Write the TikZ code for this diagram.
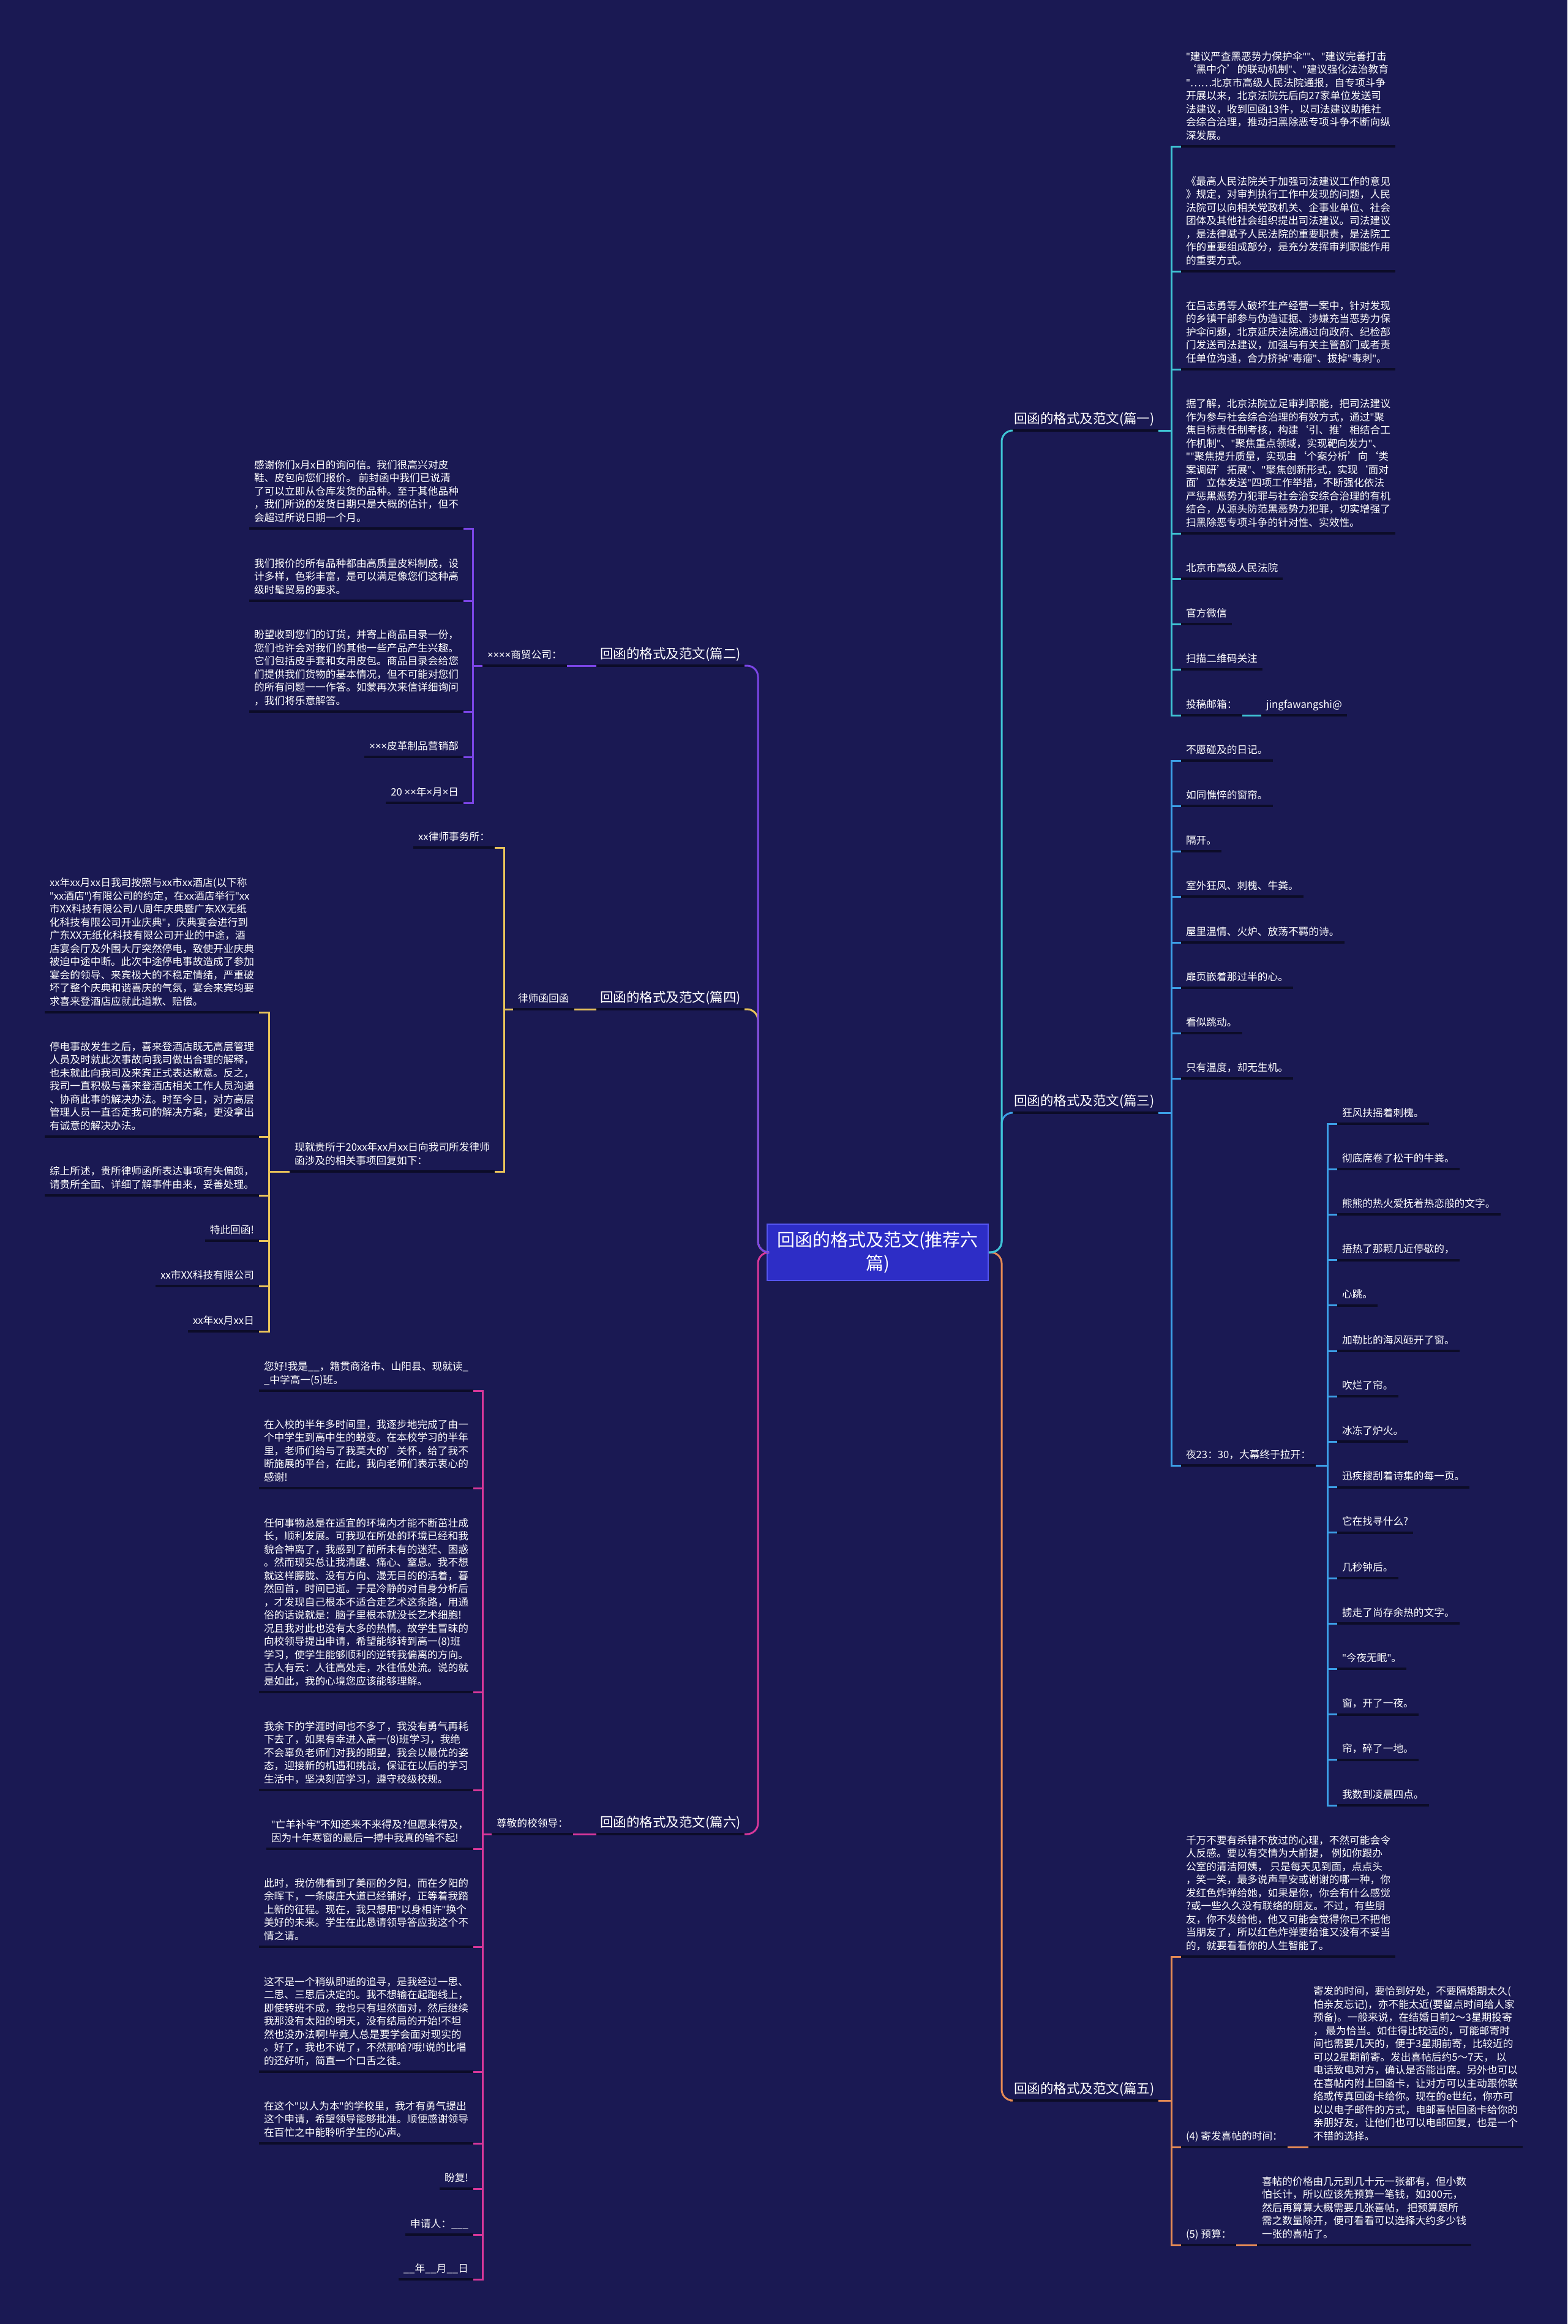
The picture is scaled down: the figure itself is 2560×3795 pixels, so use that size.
\documentclass[tikz,border=0pt]{standalone}
\usepackage{fontspec}
\setmainfont{Noto Sans CJK SC}
\newfontfamily\latf{Noto Sans}
\usetikzlibrary{calc}
\definecolor{bg}{HTML}{1A1953}
\definecolor{ulc}{HTML}{0C0C28}
\definecolor{cA}{HTML}{3FC4D4}
\definecolor{cB}{HTML}{7B45E6}
\definecolor{cC}{HTML}{3C9FE6}
\definecolor{cD}{HTML}{E9C35A}
\definecolor{cE}{HTML}{E58A55}
\definecolor{cF}{HTML}{D8379A}
\definecolor{ctrfill}{HTML}{2D2DC6}
\definecolor{ctrline}{HTML}{5555F0}
\newcommand{\lfnt}{\fontsize{16.7pt}{21.5pt}\selectfont}
\newcommand{\brfnt}{\fontsize{21.5pt}{26pt}\selectfont}
\newcommand{\ctfnt}{\fontsize{29pt}{38pt}\selectfont}
\newcommand{\ptab}[1]{\begin{tabular}[b]{@{}l@{}}#1\end{tabular}}
\newcommand{\dq}{{\latf"}}
\newcommand{\xx}{{\latf ×}}
\tikzset{
 leaf/.style={font=\lfnt, text=white, inner xsep=8pt, inner ysep=0pt, text depth=12pt, outer sep=0pt},
 lr/.style={leaf, anchor=south west},
 ll/.style={leaf, anchor=south east},
 brn/.style={font=\brfnt, text=white, inner xsep=6pt, inner ysep=0pt, text depth=12pt, outer sep=0pt},
 ul/.style={draw=ulc, line width=4pt},
 con/.style={line width=3pt},
 ctrbox/.style={fill=ctrfill, draw=ctrline, line width=1.5pt, text=white, font=\ctfnt, align=center, minimum width=361pt, minimum height=92pt, inner sep=4pt}
}
\newcommand{\ulx}[1]{\draw[ul] (#1.south west) -- (#1.south east);}
\begin{document}
\begin{tikzpicture}[x=1pt,y=-1pt]
\fill[bg] (0,0) rectangle (2560,3795);
\useasboundingbox (0,0) rectangle (2560,3795);

% centre
\node[ctrbox] (ctr) at (1433.5,2045) {回函的格式及范文(推荐六\\篇)};
\coordinate (cr) at (1636,2045);
\coordinate (cl) at (1238,2045);

% branch nodes
\node[brn, anchor=south west] (b1) at (1650,703) {回函的格式及范文(篇一)};
\node[brn, anchor=south west] (b3) at (1650,1817) {回函的格式及范文(篇三)};
\node[brn, anchor=south west] (b5) at (1650,3430) {回函的格式及范文(篇五)};
\node[brn, anchor=south east] (b2) at (1216,1087) {回函的格式及范文(篇二)};
\node[brn, anchor=south east] (b4) at (1216,1648) {回函的格式及范文(篇四)};
\node[brn, anchor=south east] (b6) at (1216,2995) {回函的格式及范文(篇六)};

% ---------- branch 1 ----------
\node[lr] (b1l1) at (1929,239) {\ptab{\dq 建议严查黑恶势力保护伞\dq\dq 、\dq 建议完善打击\\‘黑中介’的联动机制\dq 、\dq 建议强化法治教育\\\dq ……北京市高级人民法院通报，自专项斗争\\开展以来，北京法院先后向27家单位发送司\\法建议，收到回函13件，以司法建议助推社\\会综合治理，推动扫黑除恶专项斗争不断向纵\\深发展。}};
\node[lr] (b1l2) at (1929,443) {\ptab{《最高人民法院关于加强司法建议工作的意见\\》规定，对审判执行工作中发现的问题，人民\\法院可以向相关党政机关、企事业单位、社会\\团体及其他社会组织提出司法建议。司法建议\\，是法律赋予人民法院的重要职责，是法院工\\作的重要组成部分，是充分发挥审判职能作用\\的重要方式。}};
\node[lr] (b1l3) at (1929,603) {\ptab{在吕志勇等人破坏生产经营一案中，针对发现\\的乡镇干部参与伪造证据、涉嫌充当恶势力保\\护伞问题，北京延庆法院通过向政府、纪检部\\门发送司法建议，加强与有关主管部门或者责\\任单位沟通，合力挤掉\dq 毒瘤\dq 、拔掉\dq 毒刺\dq 。}};
\node[lr] (b1l4) at (1929,871) {\ptab{据了解，北京法院立足审判职能，把司法建议\\作为参与社会综合治理的有效方式，通过\dq 聚\\焦目标责任制考核，构建‘引、推’相结合工\\作机制\dq 、\dq 聚焦重点领域，实现靶向发力\dq 、\\\dq\dq 聚焦提升质量，实现由‘个案分析’向‘类\\案调研’拓展\dq 、\dq 聚焦创新形式，实现‘面对\\面’立体发送\dq 四项工作举措，不断强化依法\\严惩黑恶势力犯罪与社会治安综合治理的有机\\结合，从源头防范黑恶势力犯罪，切实增强了\\扫黑除恶专项斗争的针对性、实效性。}};
\node[lr] (b1l5) at (1929,945) {北京市高级人民法院};
\node[lr] (b1l6) at (1929,1019) {官方微信};
\node[lr] (b1l7) at (1929,1093) {扫描二维码关注};
\node[lr] (b1l8) at (1929,1168) {投稿邮箱：};
\node[lr] (b1l9) at (2060,1168) {jingfawangshi@};
\coordinate (v1) at (1913,703);

% ---------- branch 3 ----------
\foreach \y/\t [count=\i] in {1242/不愿碰及的日记。,1316/如同憔悴的窗帘。,1390/隔开。,1464/室外狂风、刺槐、牛粪。,1539/屋里温情、火炉、放荡不羁的诗。,1613/扉页嵌着那过半的心。,1687/看似跳动。,1761/只有温度，却无生机。,2393/夜23：30，大幕终于拉开：}
  {\node[lr] (b3l\i) at (1929,\y) {\t};}
\coordinate (v3) at (1913,1817);
\foreach \t [count=\i] in {狂风扶摇着刺槐。,彻底席卷了松干的牛粪。,熊熊的热火爱抚着热恋般的文字。,捂热了那颗几近停歇的，,心跳。,加勒比的海风砸开了窗。,吹烂了帘。,冰冻了炉火。,迅疾搜刮着诗集的每一页。,它在找寻什么?,几秒钟后。,掳走了尚存余热的文字。,\dq 今夜无眠\dq 。,窗，开了一夜。,帘，碎了一地。,我数到凌晨四点。}
  {\node[lr] (b3s\i) at (2184,{1835+74.2*(\i-1)}) {\t};}
\coordinate (v3s) at (2168,2393);

% ---------- branch 5 ----------
\node[lr] (b5l1) at (1929,3195) {\ptab{千万不要有杀错不放过的心理，不然可能会令\\人反感。要以有交情为大前提， 例如你跟办\\公室的清洁阿姨， 只是每天见到面，点点头\\，笑一笑，最多说声早安或谢谢的哪一种，你\\发红色炸弹给她，如果是你，你会有什么感觉\\?或一些久久没有联络的朋友。不过，有些朋\\友，你不发给他，他又可能会觉得你已不把他\\当朋友了，所以红色炸弹要给谁又没有不妥当\\的，就要看看你的人生智能了。}};
\node[lr] (b5l2) at (1929,3506) {(4) 寄发喜帖的时间：};
\node[lr] (b5p2) at (2137,3506) {\ptab{寄发的时间，要恰到好处，不要隔婚期太久(\\怕亲友忘记)，亦不能太近(要留点时间给人家\\预备)。一般来说，在结婚日前2～3星期投寄\\， 最为恰当。如住得比较远的，可能邮寄时\\间也需要几天的，便于3星期前寄，比较近的\\可以2星期前寄。发出喜帖后约5～7天， 以\\电话致电对方，确认是否能出席。另外也可以\\在喜帖内附上回函卡，让对方可以主动跟你联\\络或传真回函卡给你。现在的e世纪，你亦可\\以以电子邮件的方式，电邮喜帖回函卡给你的\\亲朋好友，让他们也可以电邮回复，也是一个\\不错的选择。}};
\node[lr] (b5l3) at (1929,3666) {(5) 预算：};
\node[lr] (b5p3) at (2053,3666) {\ptab{喜帖的价格由几元到几十元一张都有，但小数\\怕长计，所以应该先预算一笔钱，如300元，\\然后再算算大概需要几张喜帖， 把预算跟所\\需之数量除开，便可看看可以选择大约多少钱\\一张的喜帖了。}};
\coordinate (v5) at (1913,3430);

% ---------- branch 2 ----------
\node[lr] (b2s) at (788,1087) {\xx\xx\xx\xx 商贸公司：};
\node[ll] (b2l1) at (757,863) {\ptab{感谢你们x月x日的询问信。我们很高兴对皮\\鞋、皮包向您们报价。 前封函中我们已说清\\了可以立即从仓库发货的品种。至于其他品种\\，我们所说的发货日期只是大概的估计，但不\\会超过所说日期一个月。}};
\node[ll] (b2l2) at (757,981) {\ptab{我们报价的所有品种都由高质量皮料制成，设\\计多样，色彩丰富，是可以满足像您们这种高\\级时髦贸易的要求。}};
\node[ll] (b2l3) at (757,1162) {\ptab{盼望收到您们的订货，并寄上商品目录一份，\\您们也许会对我们的其他一些产品产生兴趣。\\它们包括皮手套和女用皮包。商品目录会给您\\们提供我们货物的基本情况，但不可能对您们\\的所有问题一一作答。如蒙再次来信详细询问\\，我们将乐意解答。}};
\node[ll] (b2l4) at (757,1236) {\xx\xx\xx 皮革制品营销部};
\node[ll] (b2l5) at (757,1311) {20 \xx\xx 年\xx 月\xx 日};
\coordinate (v2) at (772,1087);

% ---------- branch 4 ----------
\node[lr] (b4s) at (838,1648) {律师函回函};
\coordinate (v4) at (823,1648);
\node[ll] (b4a) at (808,1384) {xx律师事务所：};
\node[ll] (b4b) at (808,1913) {\ptab{现就贵所于20xx年xx月xx日向我司所发律师\\函涉及的相关事项回复如下：}};
\coordinate (v4b) at (439,1913);
\node[ll] (b4c1) at (423,1653) {\ptab{xx年xx月xx日我司按照与xx市xx酒店(以下称\\\dq xx酒店\dq )有限公司的约定，在xx酒店举行\dq xx\\市XX科技有限公司八周年庆典暨广东XX无纸\\化科技有限公司开业庆典\dq ，庆典宴会进行到\\广东XX无纸化科技有限公司开业的中途，酒\\店宴会厅及外围大厅突然停电，致使开业庆典\\被迫中途中断。此次中途停电事故造成了参加\\宴会的领导、来宾极大的不稳定情绪，严重破\\坏了整个庆典和谐喜庆的气氛，宴会来宾均要\\求喜来登酒店应就此道歉、赔偿。}};
\node[ll] (b4c2) at (423,1856) {\ptab{停电事故发生之后，喜来登酒店既无高层管理\\人员及时就此次事故向我司做出合理的解释，\\也未就此向我司及来宾正式表达歉意。反之，\\我司一直积极与喜来登酒店相关工作人员沟通\\、协商此事的解决办法。时至今日，对方高层\\管理人员一直否定我司的解决方案，更没拿出\\有诚意的解决办法。}};
\node[ll] (b4c3) at (423,1952) {\ptab{综上所述，贵所律师函所表达事项有失偏颇，\\请贵所全面、详细了解事件由来，妥善处理。}};
\node[ll] (b4c4) at (423,2026) {特此回函!};
\node[ll] (b4c5) at (423,2100) {xx市XX科技有限公司};
\node[ll] (b4c6) at (423,2174) {xx年xx月xx日};

% ---------- branch 6 ----------
\node[lr] (b6s) at (803,2995) {尊敬的校领导：};
\coordinate (v6) at (788,2995);
\node[ll] (b6l1) at (773,2271) {\ptab{您好!我是\_\_，籍贯商洛市、山阳县、现就读\_\\\_中学高一(5)班。}};
\node[ll] (b6l2) at (773,2430) {\ptab{在入校的半年多时间里，我逐步地完成了由一\\个中学生到高中生的蜕变。在本校学习的半年\\里，老师们给与了我莫大的'关怀，给了我不\\断施展的平台，在此，我向老师们表示衷心的\\感谢!}};
\node[ll] (b6l3) at (773,2763) {\ptab{任何事物总是在适宜的环境内才能不断茁壮成\\长，顺利发展。可我现在所处的环境已经和我\\貌合神离了，我感到了前所未有的迷茫、困惑\\。然而现实总让我清醒、痛心、窒息。我不想\\就这样朦胧、没有方向、漫无目的的活着，暮\\然回首，时间已逝。于是冷静的对自身分析后\\，才发现自己根本不适合走艺术这条路，用通\\俗的话说就是：脑子里根本就没长艺术细胞!\\况且我对此也没有太多的热情。故学生冒昧的\\向校领导提出申请，希望能够转到高一(8)班\\学习，使学生能够顺利的逆转我偏离的方向。\\古人有云：人往高处走，水往低处流。说的就\\是如此，我的心境您应该能够理解。}};
\node[ll] (b6l4) at (773,2923) {\ptab{我余下的学涯时间也不多了，我没有勇气再耗\\下去了，如果有幸进入高一(8)班学习，我绝\\不会辜负老师们对我的期望，我会以最优的姿\\态，迎接新的机遇和挑战，保证在以后的学习\\生活中，坚决刻苦学习，遵守校级校规。}};
\node[ll] (b6l5) at (773,3019) {\ptab{\dq 亡羊补牢\dq 不知还来不来得及?但愿来得及，\\因为十年寒窗的最后一搏中我真的输不起!}};
\node[ll] (b6l6) at (773,3179) {\ptab{此时，我仿佛看到了美丽的夕阳，而在夕阳的\\余晖下，一条康庄大道已经铺好，正等着我踏\\上新的征程。现在，我只想用\dq 以身相许\dq 换个\\美好的未来。学生在此恳请领导答应我这个不\\情之请。}};
\node[ll] (b6l7) at (773,3383) {\ptab{这不是一个稍纵即逝的追寻，是我经过一思、\\二思、三思后决定的。我不想输在起跑线上，\\即使转班不成，我也只有坦然面对，然后继续\\我那没有太阳的明天，没有结局的开始!不坦\\然也没办法啊!毕竟人总是要学会面对现实的\\。好了，我也不说了，不然那啥?哦!说的比唱\\的还好听，简直一个口舌之徒。}};
\node[ll] (b6l8) at (773,3500) {\ptab{在这个\dq 以人为本\dq 的学校里，我才有勇气提出\\这个申请，希望领导能够批准。顺便感谢领导\\在百忙之中能聆听学生的心声。}};
\node[ll] (b6l9) at (773,3574) {盼复!};
\node[ll] (b6l10) at (773,3649) {申请人：\_\_\_};
\node[ll] (b6l11) at (773,3722) {\_\_年\_\_月\_\_日};

% ---------- underlines ----------
\foreach \n in {b1,b2,b3,b4,b5,b6,b1l1,b1l2,b1l3,b1l4,b1l5,b1l6,b1l7,b1l8,b1l9,b5l1,b5l2,b5p2,b5l3,b5p3,b2s,b2l1,b2l2,b2l3,b2l4,b2l5,b4s,b4a,b4b,b4c1,b4c2,b4c3,b4c4,b4c5,b4c6,b6s,b6l1,b6l2,b6l3,b6l4,b6l5,b6l6,b6l7,b6l8,b6l9,b6l10,b6l11}
  {\ulx{\n}}
\foreach \i in {1,...,9} {\ulx{b3l\i}}
\foreach \i in {1,...,16} {\ulx{b3s\i}}

% ---------- connectors from centre ----------
\draw[con,cE,rounded corners=18pt] (ctr.east) -- (cr) |- (b5.south west);
\draw[con,cC,rounded corners=18pt] (ctr.east) -- (cr) |- (b3.south west);
\draw[con,cA,rounded corners=18pt] (ctr.east) -- (cr) |- (b1.south west);
\draw[con,cF,rounded corners=18pt] (ctr.west) -- (cl) |- (b6.south east);
\draw[con,cD,rounded corners=18pt] (ctr.west) -- (cl) |- (b4.south east);
\draw[con,cB,rounded corners=18pt] (ctr.west) -- (cl) |- (b2.south east);

% ---------- branch connectors ----------
\foreach \n in {b1l1,b1l2,b1l3,b1l4,b1l5,b1l6,b1l7,b1l8}
  {\draw[con,cA] (b1.south east) -- (v1) |- (\n.south west);}
\draw[con,cA] (b1l8.south east) -- (b1l9.south west);

\foreach \i in {1,...,9}
  {\draw[con,cC] (b3.south east) -- (v3) |- (b3l\i.south west);}
\foreach \i in {1,...,16}
  {\draw[con,cC] (b3l9.south east) -- (v3s) |- (b3s\i.south west);}

\foreach \n in {b5l1,b5l2,b5l3}
  {\draw[con,cE] (b5.south east) -- (v5) |- (\n.south west);}
\draw[con,cE] (b5l2.south east) -- (b5p2.south west);
\draw[con,cE] (b5l3.south east) -- (b5p3.south west);

\draw[con,cB] (b2s.south east) -- (b2.south west);
\foreach \n in {b2l1,b2l2,b2l3,b2l4,b2l5}
  {\draw[con,cB] (b2s.south west) -- (v2) |- (\n.south east);}

\draw[con,cD] (b4s.south east) -- (b4.south west);
\foreach \n in {b4a,b4b}
  {\draw[con,cD] (b4s.south west) -- (v4) |- (\n.south east);}
\foreach \n in {b4c1,b4c2,b4c3,b4c4,b4c5,b4c6}
  {\draw[con,cD] (b4b.south west) -- (v4b) |- (\n.south east);}

\draw[con,cF] (b6s.south east) -- (b6.south west);
\foreach \n in {b6l1,b6l2,b6l3,b6l4,b6l5,b6l6,b6l7,b6l8,b6l9,b6l10,b6l11}
  {\draw[con,cF] (b6s.south west) -- (v6) |- (\n.south east);}
\end{tikzpicture}
\end{document}
